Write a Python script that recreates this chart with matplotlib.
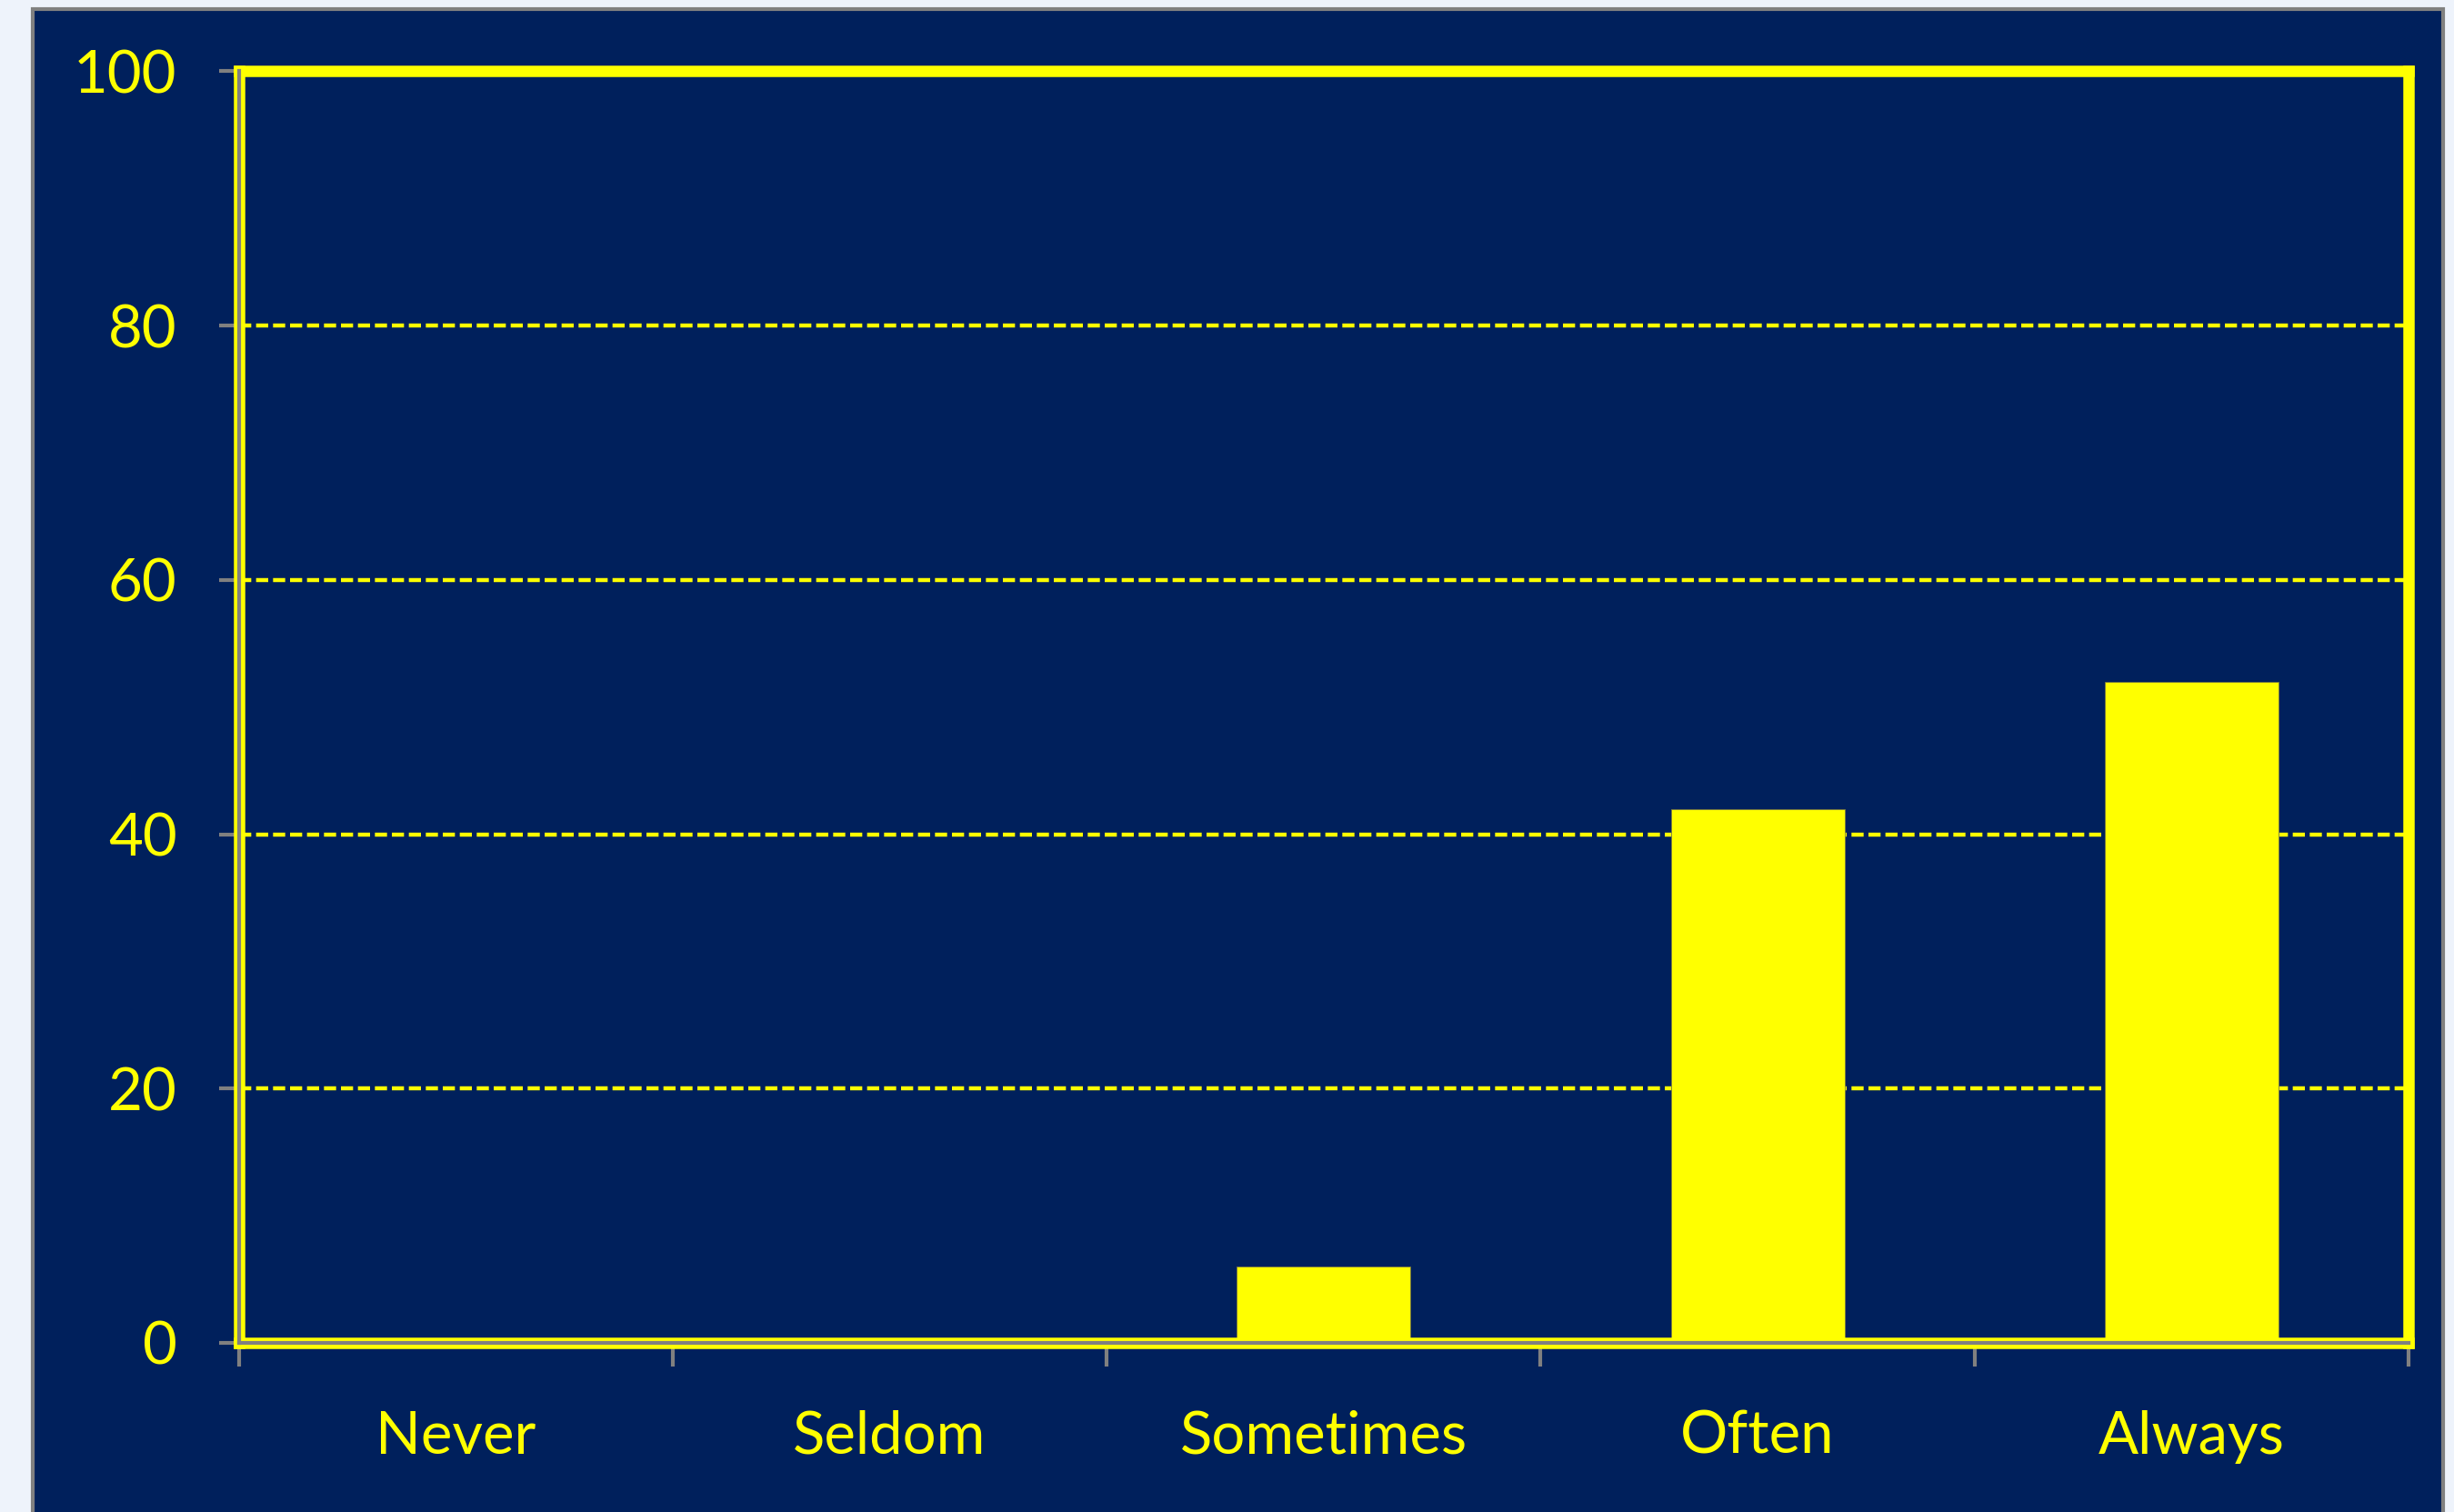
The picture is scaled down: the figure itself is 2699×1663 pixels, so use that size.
import numpy as np
import matplotlib
matplotlib.use("Agg")
import matplotlib.pyplot as plt
from matplotlib.patches import Rectangle

categories = ["Never", "Seldom", "Sometimes", "Often", "Always"]
values = [0, 0, 6, 42, 52]
yticks = [0, 20, 40, 60, 80, 100]

navy = "#00205C"
yellow = "#FFFF00"
gray = "#808080"

plt.rcParams['font.family'] = ['Lato', 'DejaVu Sans']

fig = plt.figure(figsize=(26.99, 16.63), dpi=100, facecolor="#EEF3FB")

# dark panel behind the chart
panel = Rectangle((36 / 2699, -0.01), (2687 - 36) / 2699, 1.01 - 10 / 1663,
                  transform=fig.transFigure, facecolor=navy, edgecolor=gray,
                  linewidth=3, zorder=-10)
fig.patches.append(panel)

ax = fig.add_axes([0.09726, 0.11185, 0.98147 - 0.09726, 0.95280 - 0.11185])
ax.set_facecolor(navy)

x = np.arange(len(categories))
ax.bar(x, values, width=0.4, color=yellow, edgecolor="#7a7a40", linewidth=0.6, zorder=2)

ax.set_xlim(-0.5, len(categories) - 0.5)
ax.set_ylim(0, 100)
ax.set_yticks(yticks)
ax.yaxis.grid(True, color=yellow, linestyle=(0, (3, 1.2)), linewidth=3.2)
ax.set_axisbelow(True)

# yellow frame
for s in ax.spines.values():
    s.set_color(yellow)
    s.set_linewidth(9)
    s.set_capstyle("projecting")

# gray axis lines on top of the frame
ax.plot([0, 0], [0, 1], transform=ax.transAxes, color=gray, lw=3, clip_on=False, zorder=5)
ax.plot([0, 1], [0, 0], transform=ax.transAxes, color=gray, lw=3, clip_on=False, zorder=5)

# category boundary ticks, labels at centers
ax.set_xticks(np.arange(-0.5, len(categories), 1.0))
ax.set_xticklabels([])
ax.set_xticks(x, minor=True)
ax.set_xticklabels(categories, minor=True)
ax.tick_params(axis="x", which="major", length=19, width=3, color=gray, direction="out")
ax.tick_params(axis="x", which="minor", length=0, pad=53, labelsize=47, labelcolor=yellow)
ax.tick_params(axis="y", length=16, width=3, color=gray, direction="out",
               pad=33, labelsize=47, labelcolor=yellow)

fig.savefig("out.png", dpi=100, facecolor=fig.get_facecolor())
